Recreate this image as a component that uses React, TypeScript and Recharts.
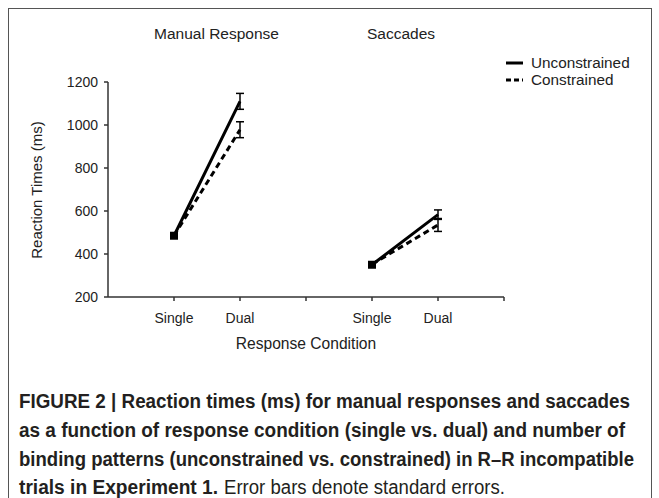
import { ErrorBar, Line, LineChart, XAxis, YAxis } from 'recharts';

// x slots: 1-2 manual response, 4-5 saccades, 3 is the gap between groups
const slots = [1, 2, 3, 4, 5];
const tickLabels = ['', 'Single', 'Dual', '', 'Single', 'Dual', ''];
const unconstrained = [485, 1110, null, 350, 583];
const unconstrainedErr = [10, 37, null, 8, 22];
const constrained = [485, 978, null, 352, 535];
const constrainedErr = [10, 37, null, 8, 30];
const yTicks = [200, 400, 600, 800, 1000, 1200];
const xTicks = [1, 2, 3, 4, 5, 6];
const groupTitles = ['Manual Response', 'Saccades'];
const seriesNames = ['Unconstrained', 'Constrained'];

// caption pieces: [text, x, width, bold]
const captionRows: [string, number, number, boolean][][] = [
  [['FIGURE 2 | Reaction times (ms) for manual responses and saccades', 19, 611, true]],
  [['as a function of response condition (single vs. dual) and number of', 19, 606, true]],
  [
    ['binding patterns (unconstrained vs. constrained)', 19, 432, true],
    ['in R\u2013R incompatible', 456, 178, true],
  ],
  [
    ['trials in Experiment 1.', 19, 199, true],
    ['Error bars denote standard errors.', 224, 281, false],
  ],
];

const data = slots.map((x, i) => ({
  x,
  condition: tickLabels[x],
  unc: unconstrained[i],
  uncErr: unconstrainedErr[i],
  con: constrained[i],
  conErr: constrainedErr[i],
}));

const font = '"Liberation Sans", Arial, sans-serif';
const axisColor = '#333';

function SquareDot(props: any) {
  const { cx, cy, payload, index } = props;
  if (payload.condition !== 'Single' || cx == null || cy == null) {
    return <g key={`d-${index}`} />;
  }
  return <rect key={`d-${index}`} x={cx - 4} y={cy - 4} width={8} height={8} fill="#000" />;
}

export default function App() {
  return (
    <div style={{ position: 'absolute', left: 0, top: 0, width: 659, height: 498, overflow: 'hidden', background: '#fff', fontFamily: font }}>
      <div style={{ position: 'absolute', left: 8, top: 8, width: 642, height: 520, border: '1.5px solid #555' }} />
      <div style={{ position: 'absolute', left: 0, top: 0 }}>
        <LineChart width={659} height={360} data={data} margin={{ top: 82, right: 155, bottom: 23, left: 58 }}>
          <XAxis
            dataKey="x"
            type="number"
            domain={[0, 6]}
            ticks={xTicks}
            tickFormatter={(v: number) => tickLabels[v] ?? ''}
            height={40}
            tickSize={4}
            tickMargin={12}
            axisLine={{ stroke: axisColor, strokeWidth: 1.5 }}
            tickLine={{ stroke: axisColor, strokeWidth: 1.5 }}
            tick={{ fill: '#222', fontSize: 14, fontFamily: font }}
          />
          <YAxis
            domain={[200, 1200]}
            ticks={yTicks}
            width={50}
            tickSize={4}
            tickMargin={6}
            axisLine={{ stroke: axisColor, strokeWidth: 1.5 }}
            tickLine={{ stroke: axisColor, strokeWidth: 1.5 }}
            tick={{ fill: '#222', fontSize: 14, fontFamily: font }}
          />
          <Line
            dataKey="con"
            stroke="#000"
            strokeWidth={3}
            strokeDasharray="6 4"
            dot={false}
            activeDot={false}
            isAnimationActive={false}
          >
            <ErrorBar dataKey="conErr" direction="y" width={4} stroke="#000" strokeWidth={1.5} />
          </Line>
          <Line
            dataKey="unc"
            stroke="#000"
            strokeWidth={3}
            dot={SquareDot}
            activeDot={false}
            isAnimationActive={false}
          >
            <ErrorBar dataKey="uncErr" direction="y" width={4} stroke="#000" strokeWidth={1.5} />
          </Line>
          <text x={154} y={39} fontSize={15.5} fill="#222" fontFamily={font}>{groupTitles[0]}</text>
          <text x={367} y={39} fontSize={15.5} fill="#222" fontFamily={font}>{groupTitles[1]}</text>
          <line x1={506} x2={523} y1={63} y2={63} stroke="#000" strokeWidth={3} />
          <text x={531} y={68} fontSize={15.3} fill="#222" fontFamily={font}>{seriesNames[0]}</text>
          <line x1={506} x2={523} y1={80} y2={80} stroke="#000" strokeWidth={3} strokeDasharray="5 3" />
          <text x={531} y={85} fontSize={15.3} fill="#222" fontFamily={font}>{seriesNames[1]}</text>
          <text x={42} y={190} fontSize={15} fill="#222" fontFamily={font} textAnchor="middle" transform="rotate(-90 42 190)">
            Reaction Times (ms)
          </text>
          <text x={306} y={349} fontSize={15.6} fill="#222" fontFamily={font} textAnchor="middle">
            Response Condition
          </text>
        </LineChart>
      </div>
      <svg width={659} height={498} style={{ position: 'absolute', left: 0, top: 0 }}>
        {captionRows.map((row, i) =>
          row.map(([txt, x, w, bold], j) => (
            <text
              key={`${i}-${j}`}
              x={x}
              y={408 + i * 28.8}
              fontSize={19.5}
              fontWeight={bold ? 'bold' : 'normal'}
              fill="#231f20"
              fontFamily={font}
              textLength={w}
              lengthAdjust="spacingAndGlyphs"
            >
              {txt}
            </text>
          ))
        )}
      </svg>
    </div>
  );
}
